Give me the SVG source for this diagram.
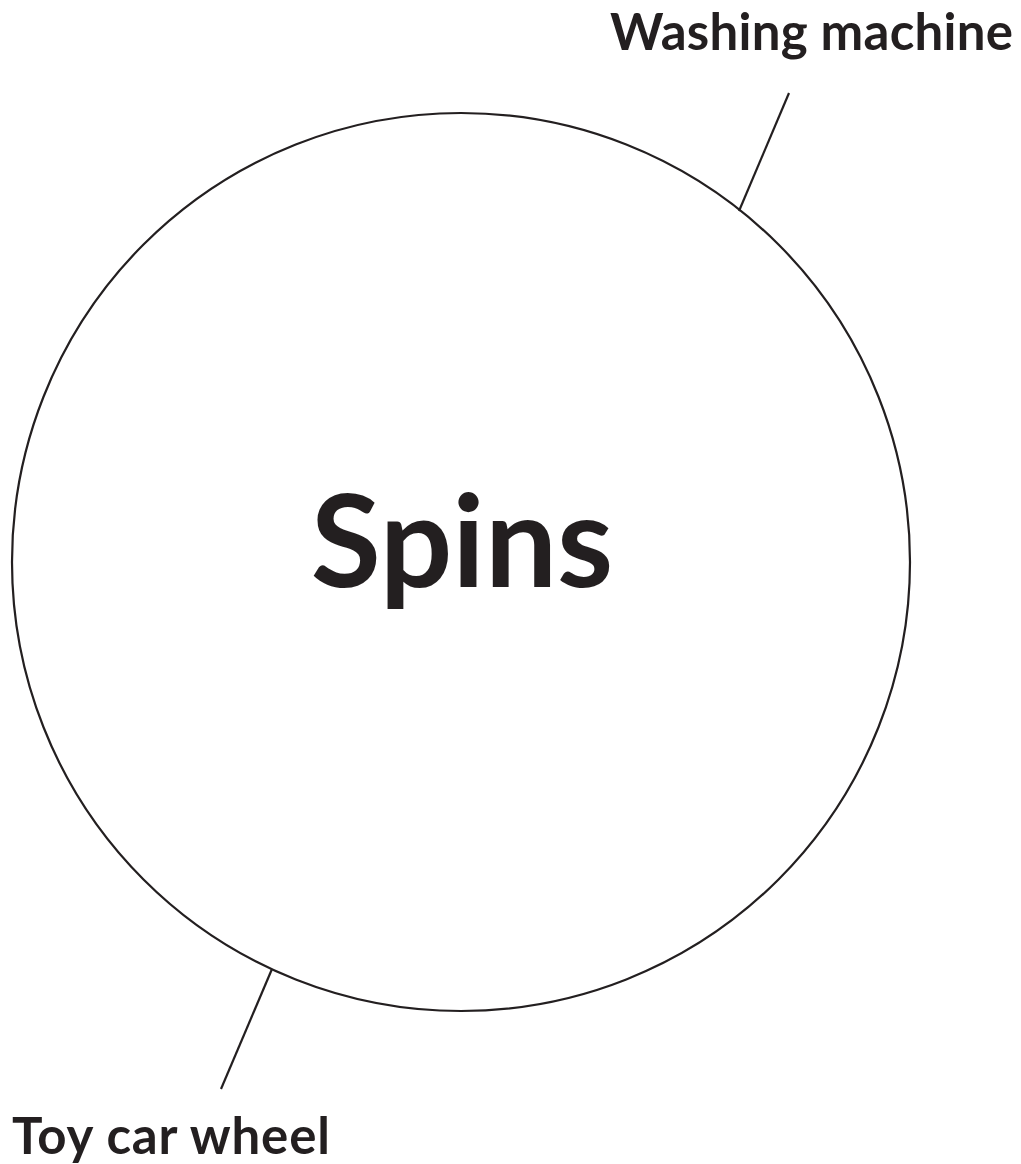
<svg xmlns="http://www.w3.org/2000/svg" width="1021" height="1164" viewBox="0 0 1021 1164">
<style>
.lbl{font-family:Lato,"Open Sans","Liberation Sans",sans-serif;font-weight:bold;fill:#231f20}
.ln{stroke:#231f20;stroke-width:2.2;fill:none}
</style>
<rect width="1021" height="1164" fill="#ffffff"/>
<g id="center">
<circle cx="461" cy="562" r="449" class="ln"/>
<text class="lbl" x="462" y="587" font-size="128" text-anchor="middle">Spins</text>
</g>
<g id="connectors">
<line class="ln" x1="789" y1="93" x2="739" y2="211"/>
<line class="ln" x1="272" y1="969" x2="221" y2="1089"/>
</g>
<g id="washing">
<text class="lbl" x="1013" y="50" font-size="51" text-anchor="end" textLength="403" lengthAdjust="spacing">Washing machine</text>
</g>
<g id="toycar">
<text class="lbl" x="12" y="1154" font-size="51" textLength="318" lengthAdjust="spacing">Toy car wheel</text>
</g>
</svg>
